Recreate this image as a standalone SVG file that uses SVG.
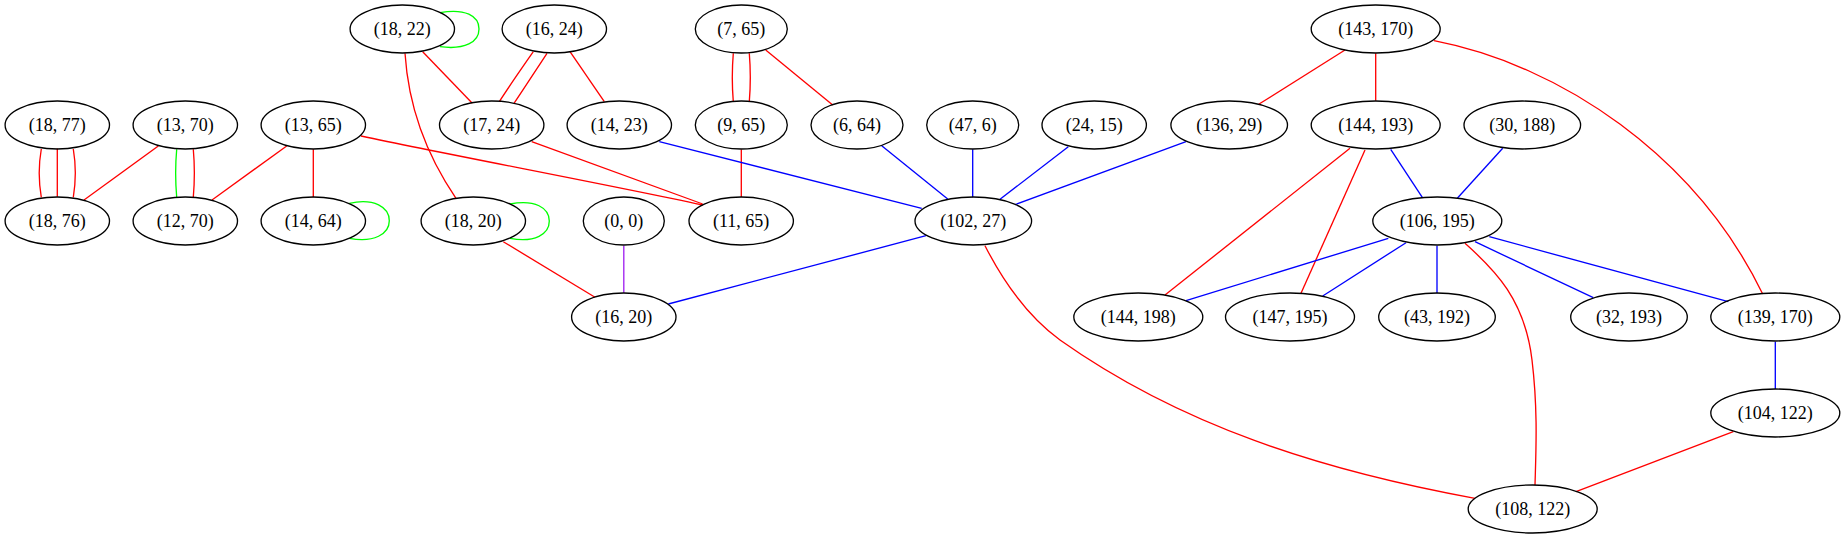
<svg xmlns="http://www.w3.org/2000/svg" width="1845" height="539" viewBox="0 0 1845 539">
<style>
.n ellipse{fill:none;stroke:#000;stroke-width:1.33}
.n text{font-family:"Liberation Serif","Times New Roman",serif;font-size:18px;text-anchor:middle;fill:#000}
#edges path{fill:none;stroke-width:1.33}
.r{stroke:#ff0000}.b{stroke:#0000ff}.g{stroke:#00ff00}.p{stroke:#a020f0}
</style>
<rect width="1845" height="539" fill="#fff"/>
<g id="edges">
<path class="r" d="M41.3,149 C38.5,165 38.5,181 41.3,197.3"/>
<path class="r" d="M57.3,148.5 L57.3,196.8"/>
<path class="r" d="M73.3,149 C76,165 76,181 73.3,197.3"/>
<path class="r" d="M158.3,146 L84,200"/>
<path class="g" d="M176.7,149.3 C175.3,165 175.3,181 176.7,197.3"/>
<path class="r" d="M193.3,149.3 C194.7,165 194.7,181 193.3,197.3"/>
<path class="r" d="M286.7,146 L212,200"/>
<path class="r" d="M313.3,149.3 L313.3,197.3"/>
<path class="r" d="M361,136 C460,157 600,183 702.7,205"/>
<path class="g" d="M349.3,203.3 C374,198 389.3,207 389.3,220.8 C389.3,234 374,243 349.3,238.3"/>
<path class="g" d="M440,12.7 C465,8 479,16 479,29 C479,42 465,50 440,46.7"/>
<path class="r" d="M422.7,51.7 L472.3,103.3"/>
<path class="r" d="M405,53.3 C408,100 423,150 456,198.3"/>
<path class="r" d="M533.3,51.7 C522,68 510,85 499.3,101.7"/>
<path class="r" d="M547,53.3 C536,70 525,87 514,103.3"/>
<path class="r" d="M570,51.7 L604.3,101.7"/>
<path class="r" d="M531.7,141.7 L702.7,204"/>
<path class="g" d="M510,204 C535,199 549.3,208 549.3,221 C549.3,234 535,243 510,238.3"/>
<path class="r" d="M503.3,241.7 L595,297.3"/>
<path class="p" d="M623.8,245.7 L623.8,292.7"/>
<path class="r" d="M733.3,53.3 C732,69 732,86 733.3,101.7"/>
<path class="r" d="M749.3,53.3 C750.6,69 750.6,86 749.3,101.7"/>
<path class="r" d="M765.7,50 L832.7,105"/>
<path class="r" d="M741.3,149.5 L741.3,197"/>
<path class="b" d="M659.3,141.7 L921.7,208.3"/>
<path class="b" d="M881.7,145.7 L947.7,199"/>
<path class="b" d="M972.7,149.3 L972.7,197.3"/>
<path class="b" d="M1068.3,146.7 L1000,199.3"/>
<path class="b" d="M1186,141.7 L1015,204.7"/>
<path class="b" d="M926,235.7 L668.3,304"/>
<path class="r" d="M985,245.7 C1005,285 1030,318 1060,340 C1180,425 1320,470 1475,498.3"/>
<path class="r" d="M1345,50 L1258.7,104.3"/>
<path class="r" d="M1375.7,53.3 L1375.7,100.7"/>
<path class="r" d="M1434,40.7 C1560,65 1695,155 1762.7,294"/>
<path class="b" d="M1390.7,149.3 L1422.3,197.3"/>
<path class="r" d="M1350,148.3 L1165,295"/>
<path class="r" d="M1365,150 L1301,293.3"/>
<path class="b" d="M1502.7,148.3 L1457.3,198.3"/>
<path class="b" d="M1388.3,238.3 L1186,300.7"/>
<path class="b" d="M1406,242.7 L1322.7,296"/>
<path class="b" d="M1437,245.7 L1437,293.3"/>
<path class="b" d="M1475,241.7 L1593.3,297.7"/>
<path class="b" d="M1489.3,236.7 L1728.3,301.7"/>
<path class="r" d="M1465,243.3 C1495,270 1525,300 1532,360 C1538,410 1536,450 1535,485"/>
<path class="b" d="M1775.3,341.7 L1775.3,389"/>
<path class="r" d="M1733.3,431.7 L1576,491.7"/>
</g>
<g id="n18_22" class="n"><ellipse cx="402.3" cy="29" rx="52.2" ry="24"/><text x="402.3" y="35">(18, 22)</text></g>
<g id="n16_24" class="n"><ellipse cx="554.3" cy="29" rx="52.2" ry="24"/><text x="554.3" y="35">(16, 24)</text></g>
<g id="n7_65" class="n"><ellipse cx="741.3" cy="29" rx="46" ry="24"/><text x="741.3" y="35">(7, 65)</text></g>
<g id="n143_170" class="n"><ellipse cx="1375.7" cy="29" rx="64.5" ry="24"/><text x="1375.7" y="35">(143, 170)</text></g>
<g id="n18_77" class="n"><ellipse cx="57.3" cy="125" rx="52.2" ry="24"/><text x="57.3" y="131">(18, 77)</text></g>
<g id="n13_70" class="n"><ellipse cx="185.3" cy="125" rx="52.2" ry="24"/><text x="185.3" y="131">(13, 70)</text></g>
<g id="n13_65" class="n"><ellipse cx="313.3" cy="125" rx="52.2" ry="24"/><text x="313.3" y="131">(13, 65)</text></g>
<g id="n17_24" class="n"><ellipse cx="491.7" cy="125" rx="52.2" ry="24"/><text x="491.7" y="131">(17, 24)</text></g>
<g id="n14_23" class="n"><ellipse cx="619.3" cy="125" rx="52.2" ry="24"/><text x="619.3" y="131">(14, 23)</text></g>
<g id="n9_65" class="n"><ellipse cx="741.3" cy="125" rx="46" ry="24"/><text x="741.3" y="131">(9, 65)</text></g>
<g id="n6_64" class="n"><ellipse cx="857" cy="125" rx="46" ry="24"/><text x="857" y="131">(6, 64)</text></g>
<g id="n47_6" class="n"><ellipse cx="972.7" cy="125" rx="46" ry="24"/><text x="972.7" y="131">(47, 6)</text></g>
<g id="n24_15" class="n"><ellipse cx="1094.2" cy="125" rx="52.2" ry="24"/><text x="1094.2" y="131">(24, 15)</text></g>
<g id="n136_29" class="n"><ellipse cx="1229.2" cy="125" rx="58.3" ry="24"/><text x="1229.2" y="131">(136, 29)</text></g>
<g id="n144_193" class="n"><ellipse cx="1375.7" cy="125" rx="64.5" ry="24"/><text x="1375.7" y="131">(144, 193)</text></g>
<g id="n30_188" class="n"><ellipse cx="1522.3" cy="125" rx="58.3" ry="24"/><text x="1522.3" y="131">(30, 188)</text></g>
<g id="n18_76" class="n"><ellipse cx="57.3" cy="221" rx="52.2" ry="24"/><text x="57.3" y="227">(18, 76)</text></g>
<g id="n12_70" class="n"><ellipse cx="185.3" cy="221" rx="52.2" ry="24"/><text x="185.3" y="227">(12, 70)</text></g>
<g id="n14_64" class="n"><ellipse cx="313.3" cy="221" rx="52.2" ry="24"/><text x="313.3" y="227">(14, 64)</text></g>
<g id="n18_20" class="n"><ellipse cx="473.3" cy="221" rx="52.2" ry="24"/><text x="473.3" y="227">(18, 20)</text></g>
<g id="n0_0" class="n"><ellipse cx="623.8" cy="221" rx="40.5" ry="24"/><text x="623.8" y="227">(0, 0)</text></g>
<g id="n11_65" class="n"><ellipse cx="741.2" cy="221" rx="52.2" ry="24"/><text x="741.2" y="227">(11, 65)</text></g>
<g id="n102_27" class="n"><ellipse cx="973.3" cy="221" rx="58.3" ry="24"/><text x="973.3" y="227">(102, 27)</text></g>
<g id="n106_195" class="n"><ellipse cx="1437.3" cy="221" rx="64.5" ry="24"/><text x="1437.3" y="227">(106, 195)</text></g>
<g id="n16_20" class="n"><ellipse cx="623.8" cy="317" rx="52.2" ry="24"/><text x="623.8" y="323">(16, 20)</text></g>
<g id="n144_198" class="n"><ellipse cx="1138.3" cy="317" rx="64.5" ry="24"/><text x="1138.3" y="323">(144, 198)</text></g>
<g id="n147_195" class="n"><ellipse cx="1290" cy="317" rx="64.5" ry="24"/><text x="1290" y="323">(147, 195)</text></g>
<g id="n43_192" class="n"><ellipse cx="1437" cy="317" rx="58.3" ry="24"/><text x="1437" y="323">(43, 192)</text></g>
<g id="n32_193" class="n"><ellipse cx="1629" cy="317" rx="58.3" ry="24"/><text x="1629" y="323">(32, 193)</text></g>
<g id="n139_170" class="n"><ellipse cx="1775.3" cy="317" rx="64.5" ry="24"/><text x="1775.3" y="323">(139, 170)</text></g>
<g id="n104_122" class="n"><ellipse cx="1775.3" cy="413" rx="64.5" ry="24"/><text x="1775.3" y="419">(104, 122)</text></g>
<g id="n108_122" class="n"><ellipse cx="1532.7" cy="509" rx="64.5" ry="24"/><text x="1532.7" y="515">(108, 122)</text></g>
</svg>
